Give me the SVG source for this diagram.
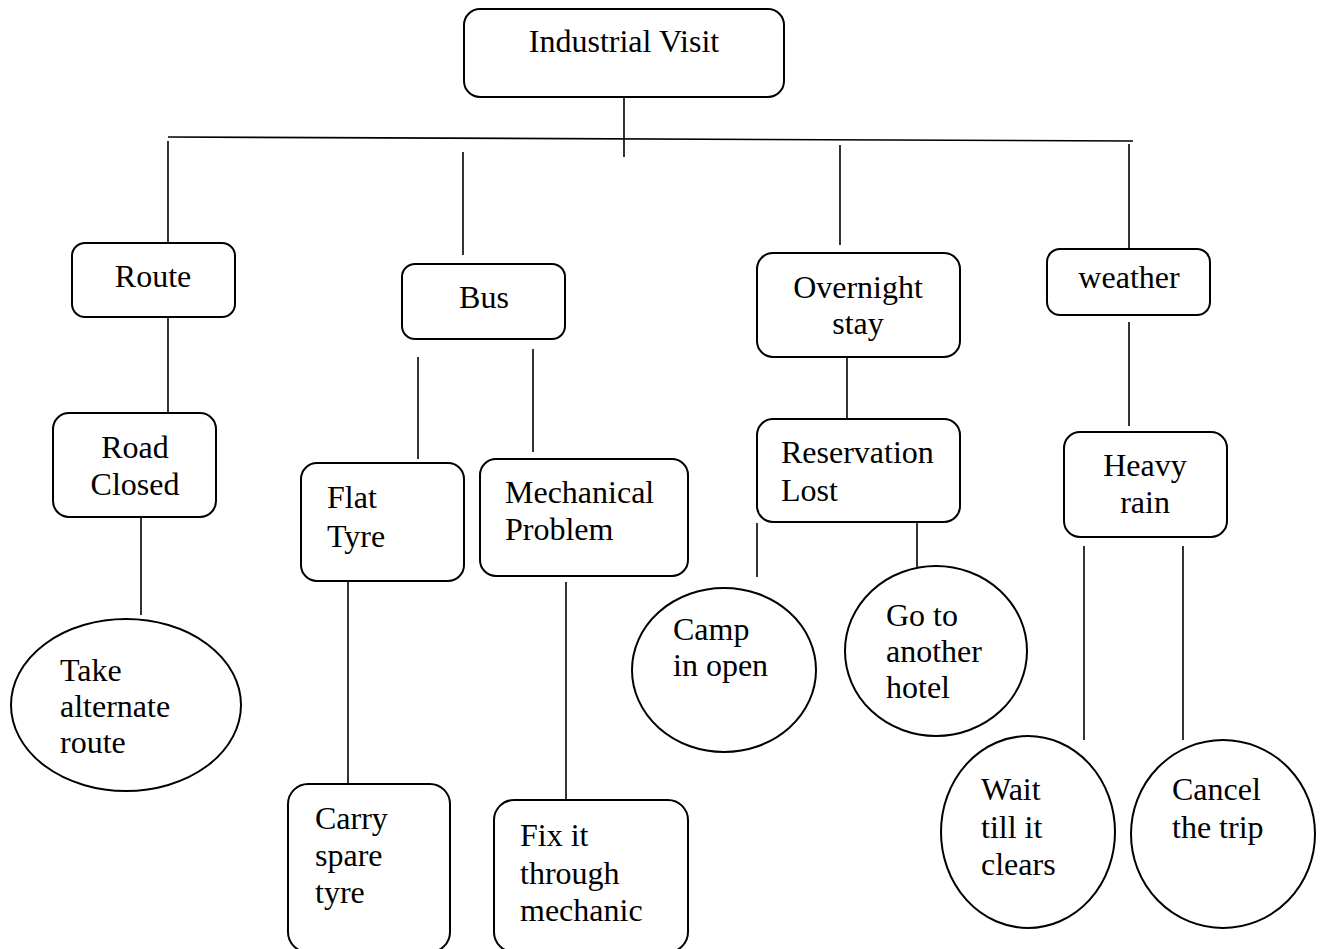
<svg xmlns="http://www.w3.org/2000/svg" width="1321" height="949" viewBox="0 0 1321 949">
  <style>
    .box { fill: #fff; stroke: #000; stroke-width: 2; }
    .oval { fill: #fff; stroke: #000; stroke-width: 2; }
    .link { stroke: #000; stroke-width: 1.6; fill: none; }
    .lbl { font-family: 'Liberation Serif', 'Times New Roman', Times, 'DejaVu Serif', serif; font-size: 32px; fill: #000; }
    .c { text-anchor: middle; }
  </style>
  <rect width="1321" height="949" fill="#fff"/>

  <!-- connectors -->
  <g id="connectors">
    <line class="link" x1="624" y1="97" x2="624" y2="157"/>
    <line class="link" x1="168" y1="137" x2="1133" y2="141"/>
    <line class="link" x1="168" y1="141" x2="168" y2="243"/>
    <line class="link" x1="463" y1="152" x2="463" y2="255"/>
    <line class="link" x1="840" y1="145" x2="840" y2="245"/>
    <line class="link" x1="1129" y1="144" x2="1129" y2="249"/>
    <line class="link" x1="168" y1="317" x2="168" y2="413"/>
    <line class="link" x1="141" y1="517" x2="141" y2="615"/>
    <line class="link" x1="418" y1="357" x2="418" y2="459"/>
    <line class="link" x1="533" y1="349" x2="533" y2="452"/>
    <line class="link" x1="348" y1="581" x2="348" y2="784"/>
    <line class="link" x1="566" y1="582" x2="566" y2="800"/>
    <line class="link" x1="847" y1="349" x2="847" y2="419"/>
    <line class="link" x1="757" y1="523" x2="757" y2="577"/>
    <line class="link" x1="917" y1="517" x2="917" y2="572"/>
    <line class="link" x1="1129" y1="322" x2="1129" y2="426"/>
    <line class="link" x1="1084" y1="546" x2="1084" y2="740"/>
    <line class="link" x1="1183" y1="546" x2="1183" y2="740"/>
  </g>

  <g class="lbl" font-family="Liberation Serif, serif">
  <g id="industrial-visit">
    <rect class="box" x="464" y="9" width="320" height="88" rx="16"/>
    <text class="c" x="624" y="52">Industrial Visit</text>
  </g>

  <g id="route">
    <rect class="box" x="72" y="243" width="163" height="74" rx="13"/>
    <text class="c" x="153" y="287">Route</text>
  </g>
  <g id="road-closed">
    <rect class="box" x="53" y="413" width="163" height="104" rx="16"/>
    <text class="c" x="135" y="458">Road</text>
    <text class="c" x="135" y="495">Closed</text>
  </g>
  <g id="take-alternate-route">
    <ellipse class="oval" cx="126" cy="705" rx="115" ry="86"/>
    <text x="60" y="681">Take</text>
    <text x="60" y="717">alternate</text>
    <text x="60" y="753">route</text>
  </g>

  <g id="bus">
    <rect class="box" x="402" y="264" width="163" height="75" rx="13"/>
    <text class="c" x="484" y="308">Bus</text>
  </g>
  <g id="flat-tyre">
    <rect class="box" x="301" y="463" width="163" height="118" rx="16"/>
    <text x="327" y="508">Flat</text>
    <text x="327" y="547">Tyre</text>
  </g>
  <g id="mechanical-problem">
    <rect class="box" x="480" y="459" width="208" height="117" rx="16"/>
    <text x="505" y="503">Mechanical</text>
    <text x="505" y="540">Problem</text>
  </g>
  <g id="carry-spare-tyre">
    <rect class="box" x="288" y="784" width="162" height="168" rx="20"/>
    <text x="315" y="829">Carry</text>
    <text x="315" y="866">spare</text>
    <text x="315" y="903">tyre</text>
  </g>
  <g id="fix-it-through-mechanic">
    <rect class="box" x="494" y="800" width="194" height="152" rx="20"/>
    <text x="520" y="846">Fix it</text>
    <text x="520" y="884">through</text>
    <text x="520" y="921">mechanic</text>
  </g>

  <g id="overnight-stay">
    <rect class="box" x="757" y="253" width="203" height="104" rx="16"/>
    <text class="c" x="858" y="298">Overnight</text>
    <text class="c" x="858" y="334">stay</text>
  </g>
  <g id="reservation-lost">
    <rect class="box" x="757" y="419" width="203" height="103" rx="16"/>
    <text x="781" y="463">Reservation</text>
    <text x="781" y="501">Lost</text>
  </g>
  <g id="camp-in-open">
    <ellipse class="oval" cx="724" cy="670" rx="92" ry="82"/>
    <text x="673" y="640">Camp</text>
    <text x="673" y="676">in open</text>
  </g>
  <g id="go-to-another-hotel">
    <ellipse class="oval" cx="936" cy="651" rx="91" ry="85"/>
    <text x="886" y="626">Go to</text>
    <text x="886" y="662">another</text>
    <text x="886" y="698">hotel</text>
  </g>

  <g id="weather">
    <rect class="box" x="1047" y="249" width="163" height="66" rx="13"/>
    <text class="c" x="1129" y="288">weather</text>
  </g>
  <g id="heavy-rain">
    <rect class="box" x="1064" y="432" width="163" height="105" rx="16"/>
    <text class="c" x="1145" y="476">Heavy</text>
    <text class="c" x="1145" y="513">rain</text>
  </g>
  <g id="wait-till-it-clears">
    <ellipse class="oval" cx="1028" cy="832" rx="87" ry="96"/>
    <text x="981" y="800">Wait</text>
    <text x="981" y="838">till it</text>
    <text x="981" y="875">clears</text>
  </g>
  <g id="cancel-the-trip">
    <ellipse class="oval" cx="1223" cy="834" rx="92" ry="94"/>
    <text x="1172" y="800">Cancel</text>
    <text x="1172" y="838">the trip</text>
  </g>
  </g>
</svg>
